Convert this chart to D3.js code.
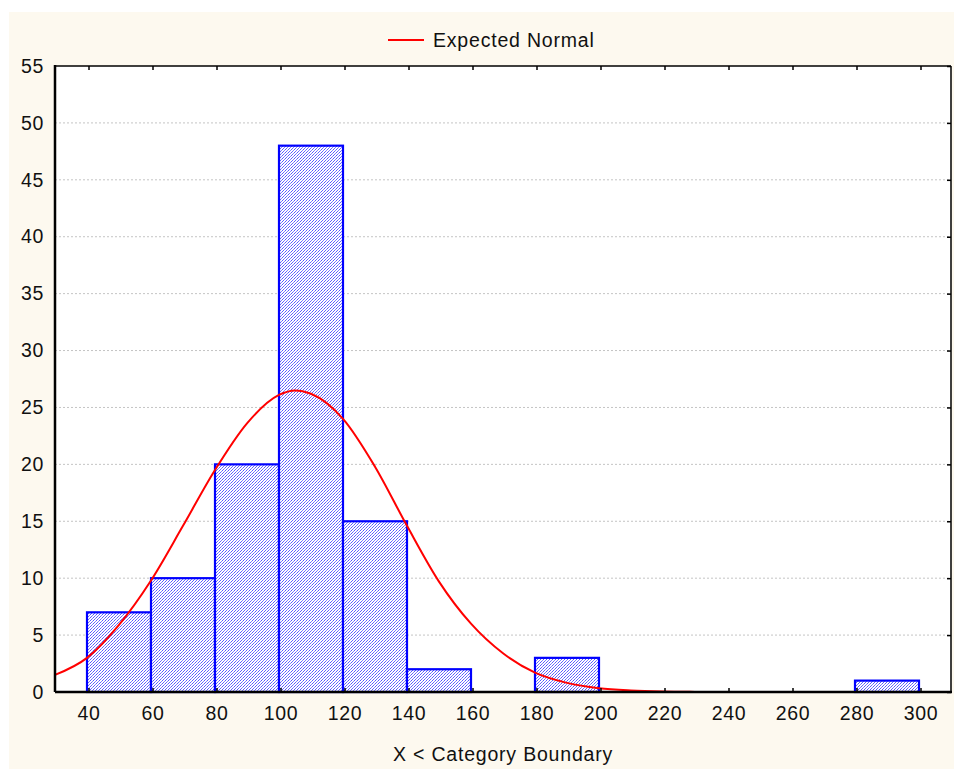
<!DOCTYPE html>
<html>
<head>
<meta charset="utf-8">
<script src="https://cdn.jsdelivr.net/npm/d3@7"></script>
<style>
  body { margin: 0; background: #ffffff; }
  svg { display: block; font-family: "Liberation Sans", Arial, sans-serif; }
</style>
</head>
<body>
<svg class="chart"></svg>
<script>
// histogram bins (lower boundary, upper boundary, count)
var binStarts = [40, 60, 80, 100, 120, 140, 160, 180, 200, 220, 240, 260, 280];
var binEnds   = [60, 80, 100, 120, 140, 160, 180, 200, 220, 240, 260, 280, 300];
var binCounts = [7, 10, 20, 48, 15, 2, 0, 3, 0, 0, 0, 0, 1];

// expected normal curve
var curveX = [30, 40, 50, 60, 70, 80, 90, 100, 105, 110, 120, 130, 140, 150, 160, 170, 180, 190, 200, 210, 220, 230, 240];
var curveY = [1.5, 3.0, 5.9, 9.8, 14.6, 19.5, 23.6, 26.1, 26.5, 26.2, 24.0, 19.8, 14.6, 9.7, 6.0, 3.4, 1.7, 0.8, 0.33, 0.13, 0.04, 0.01, 0];

var xTicks = [40, 60, 80, 100, 120, 140, 160, 180, 200, 220, 240, 260, 280, 300];
var yTicks = [0, 5, 10, 15, 20, 25, 30, 35, 40, 45, 50, 55];

var width = 954, height = 769;
var mLeft = 55, mRight = 951, mTop = 66, mBottom = 692;
var fontSize = 19.5;

var svg = d3.select(".chart").attr("width", width).attr("height", height);

// cream panel
svg.append("rect")
  .attr("x", 9).attr("y", 12)
  .attr("width", width - 9).attr("height", height - 12)
  .attr("fill", "#fdf9ef");

// hatch pattern for the bars
var defs = svg.append("defs");
var pat = defs.append("pattern")
  .attr("id", "hatch")
  .attr("patternUnits", "userSpaceOnUse")
  .attr("width", 3).attr("height", 3);
pat.append("rect").attr("width", 3).attr("height", 3).attr("fill", "#ffffff");
pat.append("path")
  .attr("d", "M-1,1 L1,-1 M0,3 L3,0 M2,4 L4,2")
  .attr("stroke", "#1515ff").attr("stroke-width", 0.85)
  .attr("stroke-dasharray", "1.2,0.5");

var x = d3.scaleLinear().domain([30, 310]).range([mLeft, mRight]);
var y = d3.scaleLinear().domain([0, 55]).range([mBottom, mTop]);

// plot area
svg.append("rect")
  .attr("x", mLeft).attr("y", mTop)
  .attr("width", mRight - mLeft).attr("height", mBottom - mTop)
  .attr("fill", "#ffffff");

// dashed grid
svg.append("g").selectAll("line")
  .data(yTicks.filter(function(d) { return d > 0 && d < 55; }))
  .enter().append("line")
  .attr("x1", mLeft).attr("x2", mRight)
  .attr("y1", function(d) { return y(d); })
  .attr("y2", function(d) { return y(d); })
  .attr("stroke", "#c4c4c4")
  .attr("stroke-width", 1)
  .attr("stroke-dasharray", "2,2");

// bars
var bins = binStarts.map(function(s, i) { return { x0: s, x1: binEnds[i], n: binCounts[i] }; })
  .filter(function(d) { return d.n > 0; });

svg.append("g").selectAll("rect")
  .data(bins)
  .enter().append("rect")
  .attr("x", function(d) { return x(d.x0); })
  .attr("y", function(d) { return y(d.n); })
  .attr("width", function(d) { return x(d.x1) - x(d.x0); })
  .attr("height", function(d) { return y(0) - y(d.n); })
  .attr("fill", "url(#hatch)")
  .attr("stroke", "#0000ff")
  .attr("stroke-width", 2.2);

// expected normal
var line = d3.line()
  .x(function(d) { return x(d[0]); })
  .y(function(d) { return y(d[1]); })
  .curve(d3.curveMonotoneX);

svg.append("path")
  .datum(curveX.map(function(v, i) { return [v, curveY[i]]; }))
  .attr("d", line)
  .attr("fill", "none")
  .attr("stroke", "#ff0000")
  .attr("stroke-width", 2);

// frame: top and right
svg.append("line").attr("x1", mLeft).attr("x2", mRight).attr("y1", mTop).attr("y2", mTop)
  .attr("stroke", "#000").attr("stroke-width", 1.5);
svg.append("line").attr("x1", mRight).attr("x2", mRight).attr("y1", mTop).attr("y2", mBottom)
  .attr("stroke", "#000").attr("stroke-width", 1.5);

// bottom axis with inward ticks
var xAxis = d3.axisBottom(x).tickValues(xTicks).tickSizeInner(-4).tickSizeOuter(0).tickPadding(14);
var gx = svg.append("g").attr("transform", "translate(1.5," + mBottom + ")").call(xAxis);
gx.select(".domain").remove();
gx.selectAll("line").attr("stroke", "#000").attr("stroke-width", 1.5);
gx.selectAll("text").attr("font-size", fontSize).attr("fill", "#111")
  .attr("font-family", "Liberation Sans, Arial, sans-serif")
  .attr("letter-spacing", 0.6);

// top ticks
var xTop = d3.axisTop(x).tickValues(xTicks).tickSizeInner(-4).tickSizeOuter(0).tickFormat("");
var gt = svg.append("g").attr("transform", "translate(1.5," + mTop + ")").call(xTop);
gt.select(".domain").remove();
gt.selectAll("line").attr("stroke", "#000").attr("stroke-width", 1.5);

// right ticks
var yRight = d3.axisRight(y).tickValues(yTicks).tickSizeInner(-4).tickSizeOuter(0).tickFormat("");
var gr = svg.append("g").attr("transform", "translate(" + mRight + ",0)").call(yRight);
gr.select(".domain").remove();
gr.selectAll("line").attr("stroke", "#000").attr("stroke-width", 1.5);

// left axis labels
var yAxis = d3.axisLeft(y).tickValues(yTicks).tickSize(0).tickPadding(11);
var gy = svg.append("g").attr("transform", "translate(" + mLeft + ",0)").call(yAxis);
gy.select(".domain").remove();
gy.selectAll("text").attr("font-size", fontSize).attr("fill", "#111")
  .attr("font-family", "Liberation Sans, Arial, sans-serif")
  .attr("letter-spacing", 0.6);

// main axis lines
svg.append("line").attr("x1", mLeft).attr("x2", mRight + 1).attr("y1", mBottom).attr("y2", mBottom)
  .attr("stroke", "#000").attr("stroke-width", 2.5);
svg.append("line").attr("x1", mLeft).attr("x2", mLeft).attr("y1", mTop - 1).attr("y2", mBottom)
  .attr("stroke", "#000").attr("stroke-width", 2.5);

// axis title
svg.append("text")
  .attr("x", 503).attr("y", 761)
  .attr("text-anchor", "middle")
  .attr("font-size", fontSize).attr("fill", "#111")
  .attr("letter-spacing", 0.8)
  .text("X < Category Boundary");

// legend
svg.append("line").attr("x1", 388).attr("x2", 424).attr("y1", 40).attr("y2", 40)
  .attr("stroke", "#ff0000").attr("stroke-width", 2);
svg.append("text").attr("x", 433).attr("y", 47)
  .attr("font-size", fontSize).attr("fill", "#111")
  .attr("letter-spacing", 0.8)
  .text("Expected Normal");
</script>
</body>
</html>
